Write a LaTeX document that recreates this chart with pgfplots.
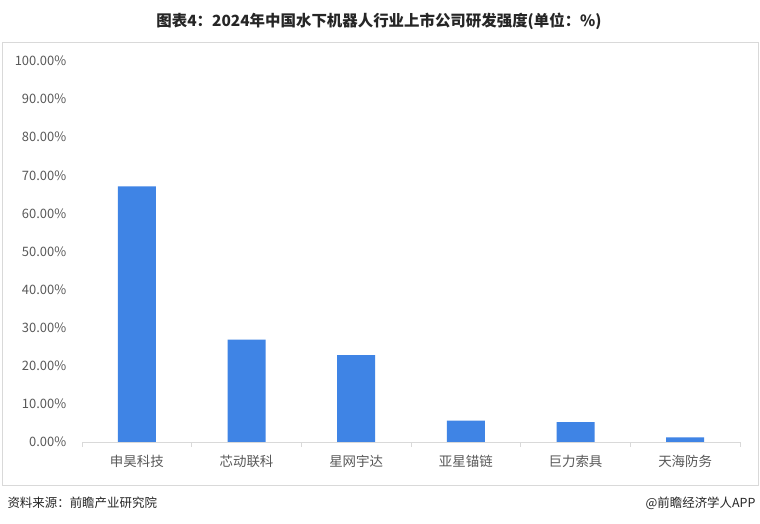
\documentclass[border=0pt]{standalone}
\usepackage{fontspec}
\setmainfont{Noto Sans CJK SC}
\usepackage{pgfplots}
\pgfplotsset{compat=1.18}
\definecolor{barblue}{HTML}{3F84E5}
\definecolor{ticktxt}{HTML}{595959}
\definecolor{frame}{HTML}{D9D9D9}
\begin{document}
\begin{tikzpicture}[x=1bp,y=1bp]
\path[fill=white] (0,0) rectangle (760,524);
\draw[frame, line width=0.8bp] (2,39) rectangle (758,482);
\node[font=\bfseries\fontsize{15.5}{17}\selectfont, text=black!85] at (379,503) {图表4：2024年中国水下机器人行业上市公司研发强度(单位：\%)};
\node[anchor=west, font=\fontsize{12.5}{14}\selectfont, text=black!85] at (4,21) {资料来源：前瞻产业研究院};
\node[anchor=east, font=\fontsize{12.5}{14}\selectfont, text=black!85] at (759,21) {@前瞻经济学人APP};
\begin{axis}[
  at={(82bp,82bp)}, anchor=south west,
  scale only axis, width=658bp, height=381bp,
  xmin=-0.5, xmax=5.5, ymin=0, ymax=100,
  axis x line=bottom, axis y line=left,
  x axis line style={frame, line width=0.8bp, -},
  y axis line style={draw=none},
  xtick={0,1,2,3,4,5},
  xticklabels={申昊科技,芯动联科,星网宇达,亚星锚链,巨力索具,天海防务},
  major x tick style={draw=none},
  minor xtick={-0.5,0.5,1.5,2.5,3.5,4.5,5.5},
  minor tick length=5bp,
  minor x tick style={frame, line width=0.8bp},
  tick align=outside,
  x tick label style={font=\fontsize{13.5}{15}\selectfont, text=ticktxt, yshift=-5bp},
  ytick={0,10,...,100},
  yticklabel={\pgfmathprintnumber[fixed,fixed zerofill,precision=2]{\tick}\%},
  y tick label style={font=\fontsize{13}{15}\selectfont, text=ticktxt, xshift=-8bp},
  /pgf/number format/assume math mode=true,
  major y tick style={draw=none},
  ybar, bar width=38bp,
  clip=false,
]
\addplot[fill=barblue, draw=none] coordinates {(0,67.1) (1,26.9) (2,22.8) (3,5.6) (4,5.2) (5,1.2)};
\end{axis}
\end{tikzpicture}
\end{document}
